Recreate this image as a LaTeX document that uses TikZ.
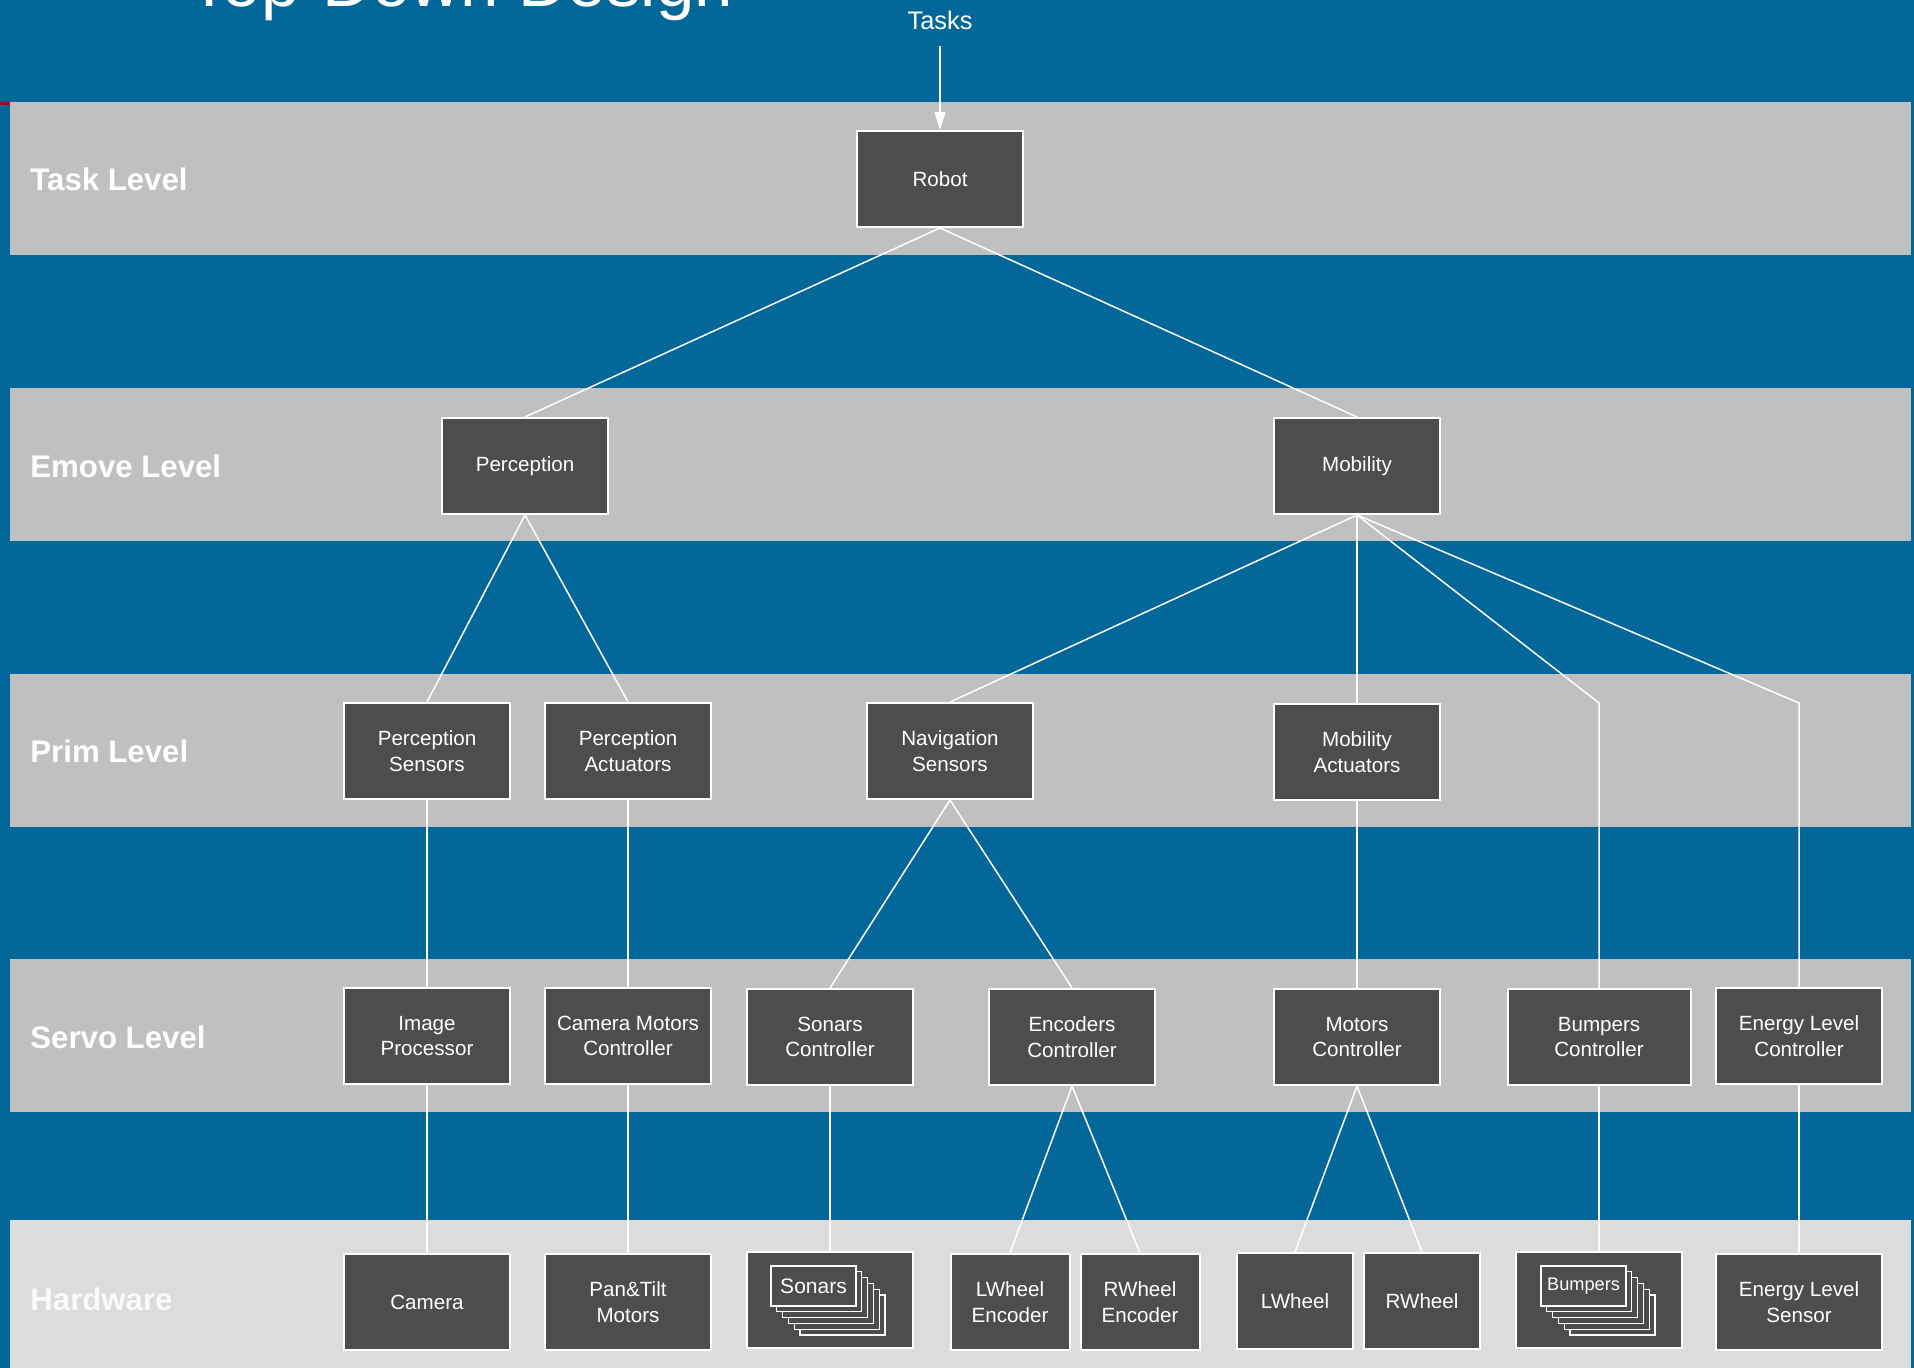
\documentclass[tikz,border=0pt]{standalone}
\usepackage{fontspec}
\setmainfont{Liberation Sans}
\usetikzlibrary{arrows.meta}
\definecolor{bgblue}{RGB}{3,103,153}
\definecolor{band}{RGB}{192,192,192}
\definecolor{hwband}{RGB}{220,220,220}
\definecolor{boxgray}{RGB}{77,77,77}
\definecolor{accent}{RGB}{165,10,10}
\begin{document}
\begin{tikzpicture}[x=0.5pt,y=-0.5pt,
  blk/.style={draw=white, line width=1pt, fill=boxgray, text=white,
    minimum width=83pt, minimum height=48pt, inner sep=0pt, align=center,
    font=\fontsize{10.3}{12.8}\selectfont},
  lvl/.style={anchor=west, inner sep=0pt, text=white,
    font=\fontsize{15.6}{18}\selectfont\bfseries},
  link/.style={draw=white, line width=0.75pt},
  tag/.style={draw=white, line width=0.6pt, fill=boxgray},
  tagtext/.style={tag, text=white, inner sep=0pt, minimum width=42.5pt, minimum height=20pt}
]
\useasboundingbox (0,0) rectangle (1914,1368);
\clip (0,0) rectangle (1914,1368);
\fill[bgblue] (0,0) rectangle (1914,1368);

% title
\node[anchor=base west, inner sep=0pt, text=white,
  font=\fontsize{34.5}{40}\selectfont] (title) at (188,7) {Top-Down Design};

% level bands
\fill[band]   (10,102)  rectangle (1911,255);
\fill[band]   (10,388)  rectangle (1911,541);
\fill[band]   (10,674)  rectangle (1911,827);
\fill[band]   (10,959)  rectangle (1911,1112);
\fill[hwband] (10,1220) rectangle (1911,1368);
\fill[accent] (0,102) rectangle (10,105);

% level labels
\node[lvl] (lTask)  at (30,179)  {Task Level};
\node[lvl] (lEmove) at (30,466)  {Emove Level};
\node[lvl] (lPrim)  at (30,751)  {Prim Level};
\node[lvl] (lServo) at (30,1037) {Servo Level};
\node[lvl, text=white!96!gray] (lHw) at (30,1299) {Hardware};

% task level
\node[inner sep=0pt, text=white, anchor=base,
  font=\fontsize{12.7}{14}\selectfont] (tasks) at (940,30) {Tasks};
\node[blk] (robot) at (940,179) {Robot};

% emove level
\node[blk] (perc) at (525,466)  {Perception};
\node[blk] (mob)  at (1357,466) {Mobility};

% prim level
\node[blk] (psens) at (427,751)  {Perception\\Sensors};
\node[blk] (pact)  at (628,751)  {Perception\\Actuators};
\node[blk] (nsens) at (950,751)  {Navigation\\Sensors};
\node[blk] (mact)  at (1357,752) {Mobility\\Actuators};

% servo level
\node[blk] (imgp) at (427,1036)  {Image\\Processor};
\node[blk] (cmc)  at (628,1036)  {Camera Motors\\Controller};
\node[blk] (sonc) at (830,1037)  {Sonars\\Controller};
\node[blk] (encc) at (1072,1037) {Encoders\\Controller};
\node[blk] (motc) at (1357,1037) {Motors\\Controller};
\node[blk, minimum width=91.5pt] (bumc) at (1599,1037) {Bumpers\\Controller};
\node[blk] (elc)  at (1799,1036) {Energy Level\\Controller};

% hardware
\node[blk] (cam)  at (427,1302)  {Camera};
\node[blk] (ptm)  at (628,1302)  {Pan\&Tilt\\Motors};
\node[blk] (son)  at (830,1300)  {};
\node[blk, minimum width=59.5pt] (lwe) at (1010,1302) {LWheel\\Encoder};
\node[blk, minimum width=59.5pt] (rwe) at (1140,1302) {RWheel\\Encoder};
\node[blk, minimum width=58pt]   (lw)  at (1295,1301) {LWheel};
\node[blk, minimum width=58pt]   (rw)  at (1422,1301) {RWheel};
\node[blk] (bum)  at (1599,1300) {};
\node[blk] (els)  at (1799,1302) {Energy Level\\Sensor};

% stacked sheets inside the Sonars and Bumpers boxes
\foreach \k in {5,4,3,2,1}{
  \draw[tag] (771+5.8*\k,1266+5.8*\k) rectangle ++(85,40);
  \draw[tag] (1541+5.8*\k,1266+5.8*\k) rectangle ++(85,40);
}
\node[tagtext, font=\fontsize{10.5}{12}\selectfont] (sonTag) at (813.5,1286) {Sonars};
\node[tagtext, font=\fontsize{9.1}{11}\selectfont]  (bumTag) at (1583.5,1286) {Bumpers};

% connectors
\draw[link, -{Triangle[length=9pt,width=5.5pt]}, shorten <=7.5pt] (tasks.south) -- (robot.north);
\draw[link] (robot.south) -- (perc.north);
\draw[link] (robot.south) -- (mob.north);
\draw[link] (perc.south) -- (psens.north);
\draw[link] (perc.south) -- (pact.north);
\draw[link] (mob.south) -- (nsens.north);
\draw[link] (mob.south) -- (mact.north);
\draw[link] (mob.south) -- (bumc.north |- mact.north) -- (bumc.north);
\draw[link] (mob.south) -- (elc.north |- mact.north) -- (elc.north);
\draw[link] (psens.south) -- (imgp.north);
\draw[link] (pact.south) -- (cmc.north);
\draw[link] (nsens.south) -- (sonc.north);
\draw[link] (nsens.south) -- (encc.north);
\draw[link] (mact.south) -- (motc.north);
\draw[link] (imgp.south) -- (cam.north);
\draw[link] (cmc.south) -- (ptm.north);
\draw[link] (sonc.south) -- (son.north);
\draw[link] (encc.south) -- (lwe.north);
\draw[link] (encc.south) -- (rwe.north);
\draw[link] (motc.south) -- (lw.north);
\draw[link] (motc.south) -- (rw.north);
\draw[link] (bumc.south) -- (bum.north);
\draw[link] (elc.south) -- (els.north);
\end{tikzpicture}
\end{document}
